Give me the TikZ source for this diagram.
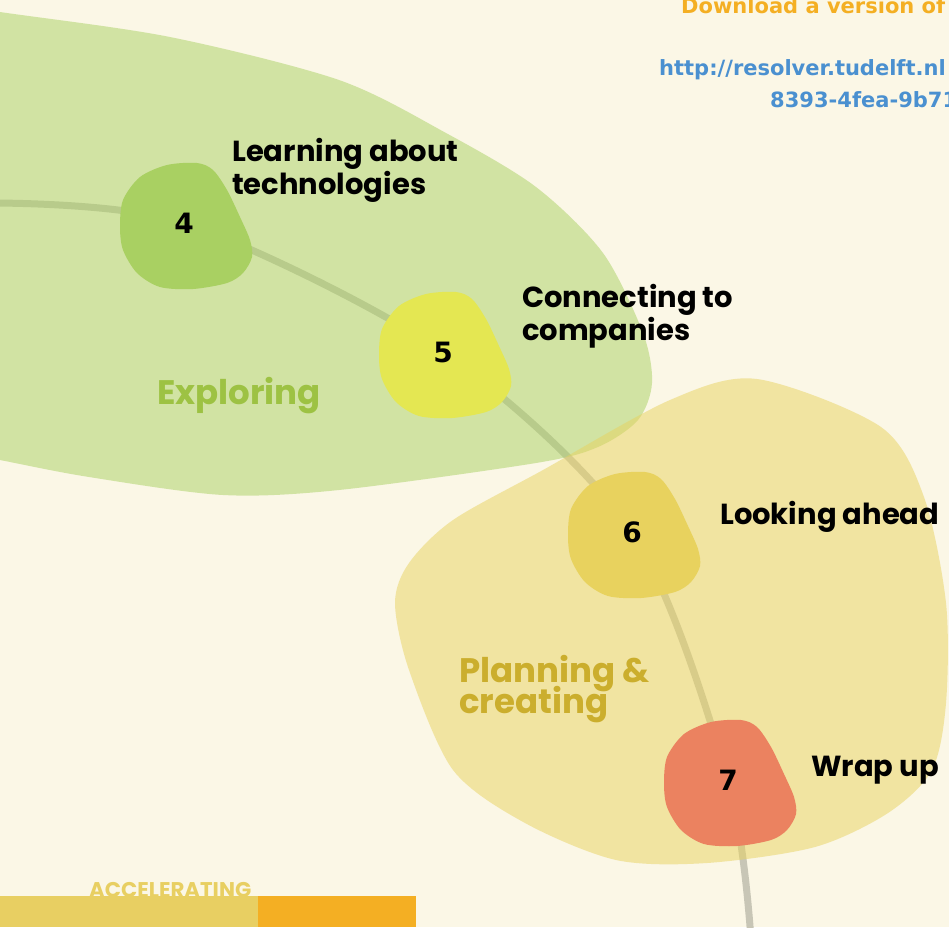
\documentclass[tikz,border=0pt]{standalone}
\usepackage{fontspec}
\newfontfamily\popfont{Poppins}
\newfontfamily\vfont{DejaVu Sans}
\definecolor{paper}{HTML}{FBF7E6}
\definecolor{cfour}{HTML}{A9D062}
\definecolor{cfive}{HTML}{E4E752}
\definecolor{csix}{HTML}{E8D25E}
\definecolor{cseven}{HTML}{EB8260}
\definecolor{exploretxt}{HTML}{9DC243}
\definecolor{plantxt}{HTML}{CBAE2D}
\definecolor{dlorange}{HTML}{F4AF23}
\definecolor{linkblue}{HTML}{4A90D0}
\definecolor{trackgrey}{HTML}{C8C6B6}
\definecolor{barleft}{HTML}{E8CF62}
\setlength{\lineskiplimit}{-50pt}
\tikzset{
  blob/.pic={\fill[#1] plot[smooth cycle] coordinates {(-64,4) (-61,-23) (-44,-46) (-17,-58) (13,-60) (29,-53) (43,-33) (56,-6) (66,17) (68,34) (59,50) (43,60) (9,66) (-24,64) (-47,50) (-61,27)};},
  num/.style={inner sep=0pt,font=\vfont\bfseries\fontsize{28}{32}\selectfont},
  steplabel/.style={inner sep=0pt,anchor=base west,align=left,font=\popfont\bfseries\fontsize{29}{33}\selectfont},
  phase/.style={inner sep=0pt,anchor=base west,align=left,font=\popfont\bfseries\fontsize{34}{31}\selectfont},
  link/.style={inner sep=0pt,anchor=base west,font=\vfont\bfseries\fontsize{21}{24}\selectfont},
  track/.style={line width=7pt,draw=trackgrey}
}
\begin{document}
\begin{tikzpicture}[x=1pt,y=-1pt]
\useasboundingbox (0,0) rectangle (949,927);
\clip (0,0) rectangle (949,927);
\fill[paper] (0,0) rectangle (949,927);

\foreach \n/\x/\y in {4/184/223, 5/443/352, 6/632/532, 7/728/780}
  \coordinate (n\n) at (\x,\y);
\coordinate (trackin) at (-10,203);
\coordinate (trackout) at (751,940);
\draw[track] plot[smooth] coordinates {(trackin) (n4) (n5) (n6) (n7) (trackout)};

% phase areas
\fill[cfour,fill opacity=.5] plot[smooth cycle] coordinates {(-200,230) (-100,-3) (0,12) (170,37) (339,80) (446,133) (536,187) (603,253) (643,333) (652,383) (638,420) (598,447) (536,463) (339,490) (223,495) (89,477) (0,460) (-100,440)};
\fill[csix,fill opacity=.5] plot[smooth cycle] coordinates {(757,379) (881,427) (924,497) (946,603) (946,703) (932,770) (888,813) (815,847) (707,863) (616,860) (525,823) (453,770) (409,670) (395,603) (409,563) (453,520) (543,470) (670,400)};

% steps
\foreach \n/\c in {4/cfour, 5/cfive, 6/csix, 7/cseven} {
  \pic at (n\n) {blob=\c};
  \node[num] (num\n) at (n\n) {\n};
}

\node[steplabel] (learn) at (232,194) {Learning about\\technologies};
\node[steplabel] (connect) at (522,340) {Connecting to\\companies};
\node[steplabel] (ahead) at (720,524) {Looking ahead};
\node[steplabel] (wrap) at (811,776) {Wrap up};

\node[phase,text=exploretxt] (explore) at (157,404) {Exploring};
\node[phase,text=plantxt] (plan) at (459,713) {Planning \&\\creating};

\node[link,text=dlorange] (dl) at (681,13) {Download a version of};
\node[link,text=linkblue] (url) at (659,75) {http://resolver.tudelft.nl};
\node[link,text=linkblue] (uuid) at (770,107) {8393-4fea-9b71};

\node[inner sep=0pt,anchor=base west,text=barleft,font=\popfont\bfseries\fontsize{21.3}{24}\selectfont] (accel) at (89,897) {ACCELERATING};
\fill[barleft] (0,896) rectangle (258,927);
\fill[dlorange] (258,896) rectangle (416,927);
\end{tikzpicture}
\end{document}
